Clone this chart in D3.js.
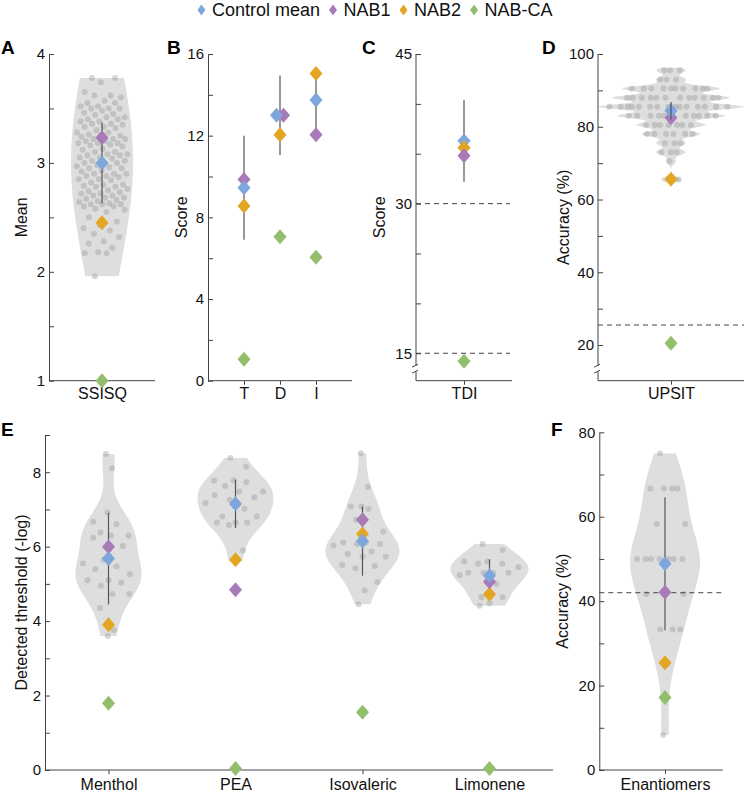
<!DOCTYPE html>
<html>
<head>
<meta charset="utf-8">
<script src="https://cdn.jsdelivr.net/npm/d3@7"></script>
<style>
  body { margin: 0; background: #fff; }
  svg { display: block; font-family: "Liberation Sans", Arial, Helvetica, sans-serif; }
</style>
</head>
<body>
<script>
// ---- data ----
const seriesNames = ['Control mean', 'NAB1', 'NAB2', 'NAB-CA'];

// A: SSISQ
const ssisqCats = ['SSISQ'];
const ssisqControl = [3.0];
const ssisqSD = [0.37];
const ssisqNAB1 = [3.23];
const ssisqNAB2 = [2.45];
const ssisqNABCA = [1.0];
const ssisqDots = [
  3.78, 3.78, 3.74, 3.65, 3.62, 3.62, 3.6,
  3.57, 3.55, 3.55, 3.52, 3.52, 3.5, 3.5, 3.5, 3.48, 3.46, 3.45,
  3.44, 3.42, 3.42, 3.4, 3.4, 3.38, 3.38, 3.36, 3.36, 3.35, 3.33, 3.33, 3.32, 3.3,
  3.28, 3.28, 3.26, 3.25, 3.25, 3.24, 3.22, 3.22, 3.22, 3.2, 3.2, 3.18, 3.18, 3.18, 3.17, 3.16, 3.15,
  3.13, 3.12, 3.1, 3.1, 3.08, 3.08, 3.07, 3.07, 3.05, 3.05, 3.04, 3.02, 3.02, 3.0, 3.0, 3.0,
  2.98, 2.97, 2.96, 2.95, 2.95, 2.93, 2.92, 2.9, 2.9, 2.9, 2.88, 2.88, 2.87, 2.85, 2.85, 2.84,
  2.82, 2.8, 2.8, 2.79, 2.78, 2.78, 2.76, 2.75, 2.74, 2.73, 2.72, 2.72, 2.7, 2.7, 2.68, 2.68, 2.67, 2.66,
  2.65, 2.64, 2.63, 2.62, 2.62, 2.62, 2.6, 2.6, 2.58, 2.57, 2.55,
  2.5, 2.46, 2.43, 2.4, 2.38, 2.35, 2.32, 2.28, 2.26, 2.22, 2.18, 2.17, 2.17, 1.96
];

// B: T, D, I subscores
const subCats = ['T', 'D', 'I'];
const subControl = [9.45, 13.0, 13.75];
const subSD = [2.55, 1.95, 1.5];
const subNAB1 = [9.85, 13.0, 12.05];
const subNAB2 = [8.55, 12.05, 15.05];
const subNABCA = [1.05, 7.05, 6.05];

// C: TDI
const tdiCats = ['TDI'];
const tdiControl = [36.3];
const tdiSD = [4.1];
const tdiNAB1 = [34.8];
const tdiNAB2 = [35.6];
const tdiNABCA = [14.2];
const tdiCutoffs = [30, 15];

// D: UPSIT
const upsitCats = ['UPSIT'];
const upsitControl = [84.4];
const upsitSD = [2.4];
const upsitNAB1 = [82.5];
const upsitNAB2 = [65.6];
const upsitNABCA = [20.5];
const upsitCutoffs = [25.5];
const upsitDots = [
  95.5, 95.5, 95.5, 93, 93, 93,
  90.5, 90.5, 90.5, 90.5, 90.5, 90.5, 90.5, 90.5, 90.5, 90.5,
  88, 88, 88, 88, 88, 88, 88, 88, 88, 88, 88, 88,
  85.5, 85.5, 85.5, 85.5, 85.5, 85.5, 85.5, 85.5, 85.5, 85.5, 85.5, 85.5, 85.5, 85.5, 85.5,
  83, 83, 83, 83, 83, 83, 83, 83, 83, 83, 83,
  80.5, 80.5, 80.5, 80.5, 80.5, 80.5, 80.5,
  78, 78, 78, 78, 78, 78,
  75.5, 75.5, 75.5, 73, 73, 73, 70.5, 65.5, 65.5
];

// E: detection thresholds
const thrCats = ['Menthol', 'PEA', 'Isovaleric', 'Limonene'];
const thrControl = [5.68, 7.15, 6.15, 5.22];
const thrSD = [1.23, 0.65, 0.93, 0.44];
const thrNAB1 = [6.0, 4.84, 6.72, 5.06];
const thrNAB2 = [3.9, 5.65, 6.34, 4.72];
const thrNABCA = [1.79, 0.04, 1.55, 0.04];
const mentholDots = [8.49, 8.11, 6.92, 6.67, 6.6, 6.38, 6.3, 6.3, 6.24, 6.02, 5.65, 5.55, 5.47, 5.4,
  5.26, 5.1, 5.1, 5.03, 4.95, 4.73, 4.73, 4.35, 3.76, 3.6];
const peaDots = [8.38, 8.15, 7.78, 7.78, 7.73, 7.63, 7.48, 7.48, 7.39, 7.33, 7.26, 7.17, 7.02,
  6.81, 6.81, 6.65, 6.65, 6.65, 6.58, 5.9, 5.6];
const isovalericDots = [8.51, 7.6, 7.08, 7.08, 7.01, 6.72, 6.41, 6.11, 6.11, 6.07, 6.07, 6.03,
  5.87, 5.8, 5.73, 5.73, 5.51, 5.48, 5.42, 5.05, 4.82, 4.45];
const limoneneDots = [6.07, 5.91, 5.6, 5.6, 5.54, 5.54, 5.45, 5.3, 5.3, 5.3, 5.3, 5.24, 5.0,
  4.64, 4.64, 4.48, 4.41];

// F: enantiomers
const enantCats = ['Enantiomers'];
const enantControl = [48.85];
const enantSD = [15.75];
const enantNAB1 = [42.1];
const enantNAB2 = [25.4];
const enantNABCA = [17.2];
const enantCutoffs = [42];
const enantDots = [75, 66.7, 66.7, 66.7, 66.7, 58.3, 58.3, 50, 50, 50, 50, 50, 50, 50,
  41.7, 41.7, 41.7, 33.3, 33.3, 33.3, 25, 8.3];

// ---- drawing ----
const width = 747, height = 792;
const colors = ['#7ea6dc', '#a87ab8', '#e3a623', '#93bf6c'];
const diamond = (w, h) => `M0,${-h / 2}L${w / 2},0L0,${h / 2}L${-w / 2},0Z`;

const svg = d3.select('body').append('svg')
    .attr('width', width)
    .attr('height', height);
svg.append('rect').attr('width', width).attr('height', height).attr('fill', '#fff');

// gaussian kernel density
function density(values, bw) {
    return v => d3.sum(values, d => Math.exp(-0.5 * ((v - d) / bw) ** 2));
}

function drawPanel(cfg) {
    const g = svg.append('g');
    const y = d3.scaleLinear().domain(cfg.domain).range([cfg.yBottom, cfg.yTop]);
    const x = d3.scalePoint().domain(cfg.cats).range(cfg.catRange).padding(cfg.pad);
    const order = cfg.order || [2, 1, 0, 3];

    // violins + dots
    (cfg.violins || []).forEach(vl => {
        const cx = x(vl.cat);
        const dens = density(vl.dots, vl.bw);
        const lo = d3.min(vl.dots) - (vl.ext || 0), hi = d3.max(vl.dots) + (vl.ext || 0);
        const grid = d3.range(0, 161).map(i => lo + (hi - lo) * i / 160);
        const pts = grid.map(v => [v, dens(v)]);
        const w = d3.scaleLinear().domain([0, d3.max(pts, p => p[1])]).range([0, vl.maxHalf]);
        g.append('path')
            .datum(pts)
            .attr('fill', '#dedede')
            .attr('d', d3.area()
                .x0(p => cx - w(p[1]))
                .x1(p => cx + w(p[1]))
                .y(p => y(p[0]))
                .curve(vl.linear ? d3.curveLinear : d3.curveBasis));
        g.append('g').selectAll('circle')
            .data(vl.dots)
            .enter().append('circle')
            .attr('r', 3)
            .attr('cx', (d, i) => {
                const u = ((i * 0.6180339887 + 0.23) % 1) * 2 - 1;
                return cx + u * w(dens(d)) * 0.85;
            })
            .attr('cy', d => y(d))
            .attr('fill', '#999')
            .attr('fill-opacity', 0.4);
    });

    // y axis
    const yAxis = d3.axisLeft(y)
        .tickValues(cfg.ticks)
        .tickSize(-5)
        .tickSizeOuter(0)
        .tickPadding(4)
        .tickFormat(d => cfg.labels.includes(d) ? d : '');
    const ya = g.append('g')
        .attr('transform', `translate(${cfg.ax},0)`)
        .attr('color', '#444')
        .call(yAxis);
    ya.selectAll('text').attr('font-size', 15).attr('fill', '#111');
    if (cfg.brk) {
        ya.select('.domain').remove();
        const b1 = cfg.yBottom - 15, b2 = cfg.yBottom - 9;
        ya.append('line').attr('y1', cfg.yTop).attr('y2', b1).attr('stroke', '#444');
        ya.append('line').attr('y1', b2).attr('y2', cfg.yBottom).attr('stroke', '#444');
        [b1, b2].forEach(b => ya.append('line')
            .attr('x1', -4).attr('x2', 2).attr('y1', b + 1.5).attr('y2', b - 1.5)
            .attr('stroke', '#444'));
    }

    // x axis
    g.append('line')
        .attr('x1', cfg.ax).attr('x2', cfg.xEnd)
        .attr('y1', cfg.yBottom).attr('y2', cfg.yBottom)
        .attr('stroke', '#444');
    const xa = g.append('g')
        .attr('transform', `translate(0,${cfg.yBottom})`)
        .attr('color', '#444')
        .call(d3.axisBottom(x).tickSize(4).tickSizeOuter(0).tickPadding(cfg.xPad));
    xa.select('.domain').remove();
    xa.selectAll('text').attr('font-size', 16).attr('fill', '#111');

    // dashed cut-offs
    (cfg.cutoffs || []).forEach(c => {
        g.append('line')
            .attr('x1', cfg.ax).attr('x2', cfg.dashEnd)
            .attr('y1', y(c)).attr('y2', y(c))
            .attr('stroke', '#444')
            .attr('stroke-dasharray', '5,4');
    });

    // error bars (control mean +- SD)
    const errLayer = g.append('g');
    const diaLayer = g.append('g');
    if (cfg.errOnTop) errLayer.raise();
    errLayer.selectAll('line')
        .data(cfg.cats)
        .enter().append('line')
        .attr('x1', d => x(d)).attr('x2', d => x(d))
        .attr('y1', (d, i) => y(cfg.series[0][i] + cfg.sd[i]))
        .attr('y2', (d, i) => y(cfg.series[0][i] - cfg.sd[i]))
        .attr('stroke', '#555')
        .attr('stroke-width', 1.2);

    // diamonds, ties dodged sideways
    cfg.cats.forEach((cat, i) => {
        const vals = cfg.series.map(s => s[i]);
        const dodge = vals.map(() => 0);
        for (let a = 0; a < 4; a++) {
            for (let b = a + 1; b < 4; b++) {
                if (Math.abs(vals[a] - vals[b]) < 0.05) { dodge[a] = -3.5; dodge[b] = 3.5; }
            }
        }
        order.forEach(k => {
            diaLayer.append('path')
                .attr('d', diamond(13, 15))
                .attr('transform', `translate(${x(cat) + dodge[k]},${y(vals[k])})`)
                .attr('fill', colors[k]);
        });
    });

    // axis title
    g.append('text')
        .attr('transform', `translate(${cfg.titleX},${(cfg.yTop + cfg.yBottom) / 2}) rotate(-90)`)
        .attr('text-anchor', 'middle')
        .attr('font-size', 16)
        .attr('fill', '#111')
        .text(cfg.title);

    // panel letter
    g.append('text')
        .attr('x', cfg.letterX).attr('y', cfg.letterY)
        .attr('font-size', 19).attr('font-weight', 'bold')
        .attr('fill', '#000')
        .text(cfg.letter);
}

const topY = 54, topBottom = 380.7;

drawPanel({
    letter: 'A', letterX: 1, letterY: 54, title: 'Mean', titleX: 27,
    cats: ssisqCats, ax: 49, xEnd: 155, catRange: [49, 155], pad: 0.5, xPad: 3,
    yTop: topY, yBottom: topBottom, domain: [1, 4],
    ticks: [1, 1.5, 2, 2.5, 3, 3.5, 4], labels: [1, 2, 3, 4],
    series: [ssisqControl, ssisqNAB1, ssisqNAB2, ssisqNABCA], sd: ssisqSD,
    violins: [{ cat: 'SSISQ', dots: ssisqDots, bw: 0.85, maxHalf: 31 }]
});

drawPanel({
    letter: 'B', letterX: 167, letterY: 54, title: 'Score', titleX: 187,
    cats: subCats, ax: 208, xEnd: 352, catRange: [208, 352], pad: 1, xPad: 3,
    yTop: topY, yBottom: topBottom, domain: [0, 16],
    ticks: d3.range(0, 17, 2), labels: [0, 4, 8, 12, 16],
    series: [subControl, subNAB1, subNAB2, subNABCA], sd: subSD
});

drawPanel({
    letter: 'C', letterX: 362, letterY: 54, title: 'Score', titleX: 385,
    cats: tdiCats, ax: 416, xEnd: 512, catRange: [416, 512], pad: 0.5, xPad: 3,
    yTop: topY, yBottom: topBottom, domain: [12.25, 45],
    ticks: d3.range(15, 46, 5), labels: [15, 30, 45], brk: true,
    cutoffs: tdiCutoffs, dashEnd: 510, order: [0, 2, 1, 3],
    series: [tdiControl, tdiNAB1, tdiNAB2, tdiNABCA], sd: tdiSD
});

drawPanel({
    letter: 'D', letterX: 542, letterY: 54, title: 'Accuracy (%)', titleX: 568.5,
    cats: upsitCats, ax: 598, xEnd: 744, catRange: [598, 744], pad: 0.5, xPad: 3,
    yTop: topY, yBottom: topBottom, domain: [10.2, 100],
    ticks: d3.range(20, 101, 10), labels: [20, 40, 60, 80, 100], brk: true,
    cutoffs: upsitCutoffs, dashEnd: 744, errOnTop: true,
    series: [upsitControl, upsitNAB1, upsitNAB2, upsitNABCA], sd: upsitSD,
    violins: [{ cat: 'UPSIT', dots: upsitDots, bw: 0.8, maxHalf: 73, linear: true, ext: 0.7 }]
});

drawPanel({
    letter: 'E', letterX: 1, letterY: 436, title: 'Detected threshold (-log)', titleX: 26.5,
    cats: thrCats, ax: 45, xEnd: 553, catRange: [45, 553], pad: 0.5, xPad: 5,
    yTop: 435, yBottom: 770, domain: [0, 9],
    ticks: d3.range(0, 10, 1), labels: [0, 2, 4, 6, 8],
    series: [thrControl, thrNAB1, thrNAB2, thrNABCA], sd: thrSD,
    violins: [
        { cat: 'Menthol', dots: mentholDots, bw: 0.5, maxHalf: 33 },
        { cat: 'PEA', dots: peaDots, bw: 0.4, maxHalf: 38 },
        { cat: 'Isovaleric', dots: isovalericDots, bw: 0.45, maxHalf: 37 },
        { cat: 'Limonene', dots: limoneneDots, bw: 0.36, maxHalf: 39 }
    ]
});

drawPanel({
    letter: 'F', letterX: 551, letterY: 436, title: 'Accuracy (%)', titleX: 568,
    cats: enantCats, ax: 599.3, xEnd: 722.7, catRange: [607, 723], pad: 0.5, xPad: 5,
    yTop: 432.3, yBottom: 770, domain: [0, 80],
    ticks: d3.range(0, 81, 10), labels: [0, 20, 40, 60, 80],
    cutoffs: enantCutoffs, dashEnd: 722,
    series: [enantControl, enantNAB1, enantNAB2, enantNABCA], sd: enantSD,
    violins: [{ cat: 'Enantiomers', dots: enantDots, bw: 7, maxHalf: 35 }]
});

// legend
const legend = svg.append('g');
let lx = 0;
seriesNames.forEach((name, k) => {
    legend.append('path')
        .attr('d', diamond(8, 11))
        .attr('transform', `translate(${lx + 4},10)`)
        .attr('fill', colors[k]);
    const t = legend.append('text')
        .attr('x', lx + 14.5).attr('y', 16)
        .attr('font-size', 18)
        .attr('fill', '#111')
        .text(name);
    lx += 14.5 + t.node().getComputedTextLength() + 9;
});
legend.attr('transform', `translate(${375 - (lx - 9) / 2},0)`);
</script>
</body>
</html>
